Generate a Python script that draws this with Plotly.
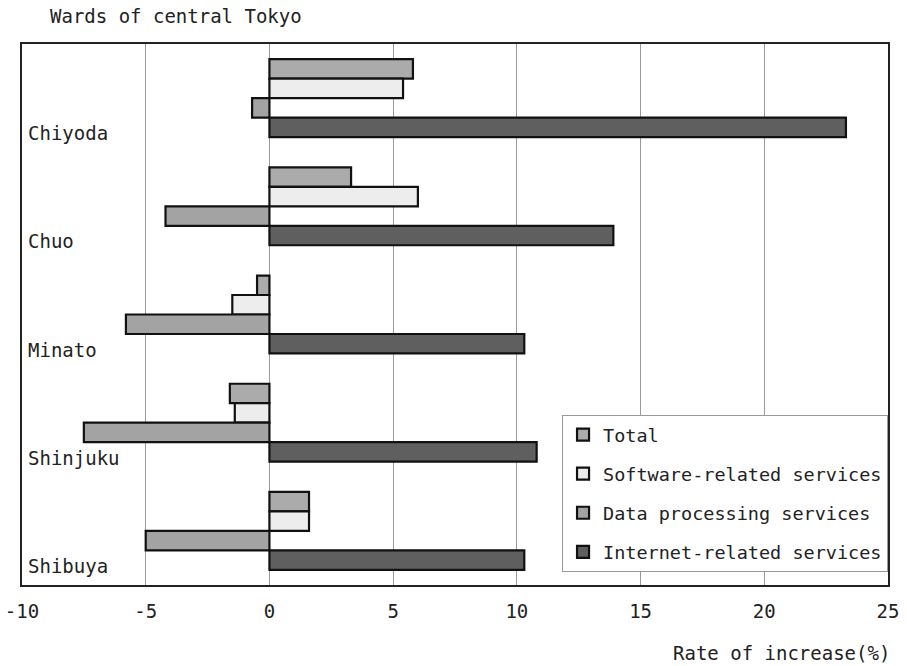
import plotly.graph_objects as go

wards = ["Chiyoda", "Chuo", "Minato", "Shinjuku", "Shibuya"]
series_names = ["Total", "Software-related services", "Data processing services", "Internet-related services"]
total = [5.8, 3.3, -0.5, -1.6, 1.6]
software = [5.4, 6.0, -1.5, -1.4, 1.6]
data_processing = [-0.7, -4.2, -5.8, -7.5, -5.0]
internet = [23.3, 13.9, 10.3, 10.8, 10.3]
x_ticks = [-10, -5, 0, 5, 10, 15, 20, 25]

colors = ["#ababab", "#ededed", "#a3a3a3", "#5f5f5f"]
FONT = "DejaVu Sans Mono"
FS = 19

fig = go.Figure()
for i, (name, vals) in enumerate(zip(series_names, [total, software, data_processing, internet])):
    fig.add_trace(go.Bar(
        y=wards, x=vals, name=name, orientation="h",
        marker=dict(color=colors[i], line=dict(color="#111111", width=2.2)),
        legendgroup=f"g{i}",
    ))

for w in wards:
    fig.add_annotation(x=0, xref="paper", y=w, yref="y", text=w, showarrow=False,
                       xanchor="left", xshift=4, yshift=-35,
                       font=dict(family=FONT, size=FS, color="#222"))

fig.add_annotation(text="Wards of central Tokyo", xref="paper", yref="paper",
                   x=0.03, y=1, yshift=15, xanchor="left", yanchor="bottom",
                   showarrow=False, font=dict(family=FONT, size=FS, color="#222"))
fig.add_annotation(text="Rate of increase(%)", xref="paper", yref="paper",
                   x=1, y=0, xshift=4, yshift=-55, xanchor="right", yanchor="top",
                   showarrow=False, font=dict(family=FONT, size=FS, color="#222"))

fig.update_layout(
    width=907, height=666,
    margin=dict(l=22, r=19, t=44, b=81, autoexpand=False),
    paper_bgcolor="white", plot_bgcolor="white",
    barmode="group", bargap=0.28, bargroupgap=0,
    font=dict(family=FONT, size=FS, color="#222"),
    showlegend=True,
    legend=dict(x=0.6236, y=0.314, xanchor="left", yanchor="top",
                bordercolor="#999999", borderwidth=1, bgcolor="white",
                font=dict(family=FONT, size=18.5, color="#222"),
                tracegroupgap=12, itemwidth=30),
)

fig.update_xaxes(range=[-10, 25], tickvals=x_ticks, ticktext=[str(t) for t in x_ticks],
                 showgrid=True, gridcolor="#9a9a9a", gridwidth=1,
                 zeroline=True, zerolinecolor="#9a9a9a", zerolinewidth=1,
                 showline=True, linecolor="#222", linewidth=2, mirror=True,
                 ticks="", ticklabelstandoff=8, automargin=False,
                 tickfont=dict(family=FONT, size=FS, color="#222"))
fig.update_yaxes(autorange="reversed", showticklabels=False, showgrid=False, automargin=False,
                 showline=True, linecolor="#222", linewidth=2, mirror=True, ticks="")

fig.write_html("out.html")
